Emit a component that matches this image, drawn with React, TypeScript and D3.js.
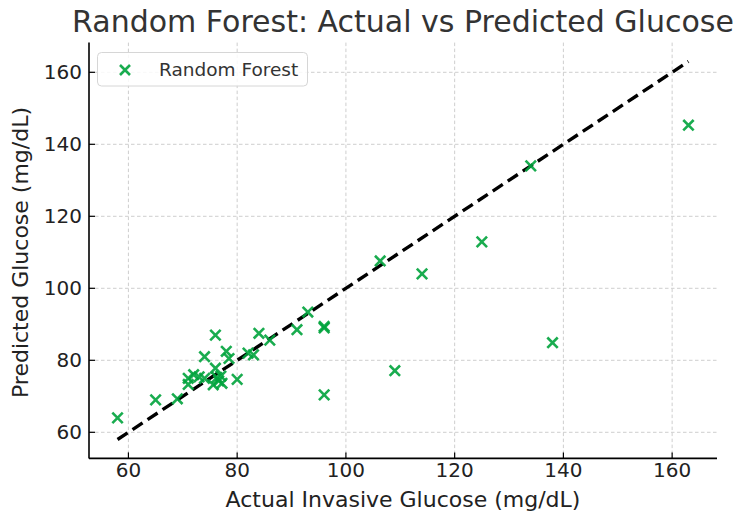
import React from "react";
import * as d3 from "d3";

const actual: number[] = [
  58, 65, 69, 71, 71, 72, 73, 74, 74, 75.6, 76, 76, 76.3, 76.6, 77, 77.2, 78, 78.5, 80,
  82, 83, 84, 86, 91, 93, 96, 96, 96, 106.3, 109, 114, 125, 134, 138, 163,
];
const predicted: number[] = [
  64, 69, 69.3, 73.3, 75, 76, 75.4, 75, 81, 73.2, 87, 77.8, 75.2, 74.3, 75.6, 73.6, 82.5, 80.5, 74.7,
  82, 81.5, 87.5, 85.6, 88.5, 93.4, 89.4, 89, 70.4, 107.6, 77.1, 104, 112.9, 134, 84.9, 145.3,
];
const xTicks: number[] = [60, 80, 100, 120, 140, 160];
const yTicks: number[] = [60, 80, 100, 120, 140, 160];
const seriesName = "Random Forest";

const W = 742;
const H = 524;
const m = { left: 89, right: 717, top: 42.6, bottom: 458.4 };
const font = "'DejaVu Sans', sans-serif";
const green = "#00a33c";

export default function App() {
  const lo = d3.min(actual)!;
  const hi = d3.max(actual)!;
  const pad = (hi - lo) * 0.05;
  const x = d3.scaleLinear().domain([lo - pad, hi + pad]).range([m.left, m.right]);
  const y = d3.scaleLinear().domain([lo - pad, hi + pad]).range([m.bottom, m.top]);
  const pts = actual.map((a, i) => ({ a, p: predicted[i] }));
  const cross = (cx: number, cy: number, r: number, key: string | number, sw = 2.6) => (
    <path
      key={key}
      d={`M${cx - r},${cy - r}L${cx + r},${cy + r}M${cx - r},${cy + r}L${cx + r},${cy - r}`}
      stroke={green}
      strokeWidth={sw}
      strokeOpacity={0.9}
      fill="none"
    />
  );
  const diag = d3.line<number>().x((d) => x(d)).y((d) => y(d))([lo, hi])!;

  return (
    <svg width={W} height={H} style={{ position: "absolute", left: 0, top: 0, background: "#fff" }}>
      {/* grid */}
      <g stroke="#c8c8c8" strokeWidth={0.9} strokeDasharray="3.5,2.5">
        {xTicks.map((t) => (
          <line key={"gx" + t} x1={x(t)} x2={x(t)} y1={m.top} y2={m.bottom} />
        ))}
        {yTicks.map((t) => (
          <line key={"gy" + t} x1={m.left} x2={m.right} y1={y(t)} y2={y(t)} />
        ))}
      </g>
      {/* perfect-prediction line */}
      <path d={diag} stroke="#000" strokeWidth={3.4} strokeDasharray="12,6" fill="none" />
      {/* points */}
      {pts.map((d, i) => cross(x(d.a), y(d.p), 5.2, i))}
      {/* spines */}
      <line x1={m.left} x2={m.left} y1={m.top} y2={m.bottom} stroke="#000" strokeWidth={1.6} />
      <line x1={m.left} x2={m.right} y1={m.bottom} y2={m.bottom} stroke="#000" strokeWidth={1.6} />
      {/* ticks */}
      {xTicks.map((t) => (
        <g key={"tx" + t}>
          <line x1={x(t)} x2={x(t)} y1={m.bottom} y2={m.bottom - 6} stroke="#000" strokeWidth={1.2} />
          <text x={x(t)} y={m.bottom + 18.5} textAnchor="middle" fontFamily={font} fontSize={20} fill="#222">
            {t}
          </text>
        </g>
      ))}
      {yTicks.map((t) => (
        <g key={"ty" + t}>
          <line x1={m.left} x2={m.left + 6} y1={y(t)} y2={y(t)} stroke="#000" strokeWidth={1.2} />
          <text x={m.left - 7} y={y(t) + 7} textAnchor="end" fontFamily={font} fontSize={20} fill="#222">
            {t}
          </text>
        </g>
      ))}
      {/* axis titles */}
      <text x={(m.left + m.right) / 2} y={507} textAnchor="middle" fontFamily={font} fontSize={22} fill="#222">
        Actual Invasive Glucose (mg/dL)
      </text>
      <text
        transform={`translate(28,${(m.top + m.bottom) / 2 + 2}) rotate(-90)`}
        textAnchor="middle"
        fontFamily={font}
        fontSize={22}
        fill="#222"
      >
        Predicted Glucose (mg/dL)
      </text>
      <text x={(m.left + m.right) / 2} y={32} textAnchor="middle" fontFamily={font} fontSize={30} fill="#333">
        Random Forest: Actual vs Predicted Glucose
      </text>
      {/* legend */}
      <rect x={97.5} y={52.5} width={210} height={33.5} rx={4} fill="#fff" fillOpacity={0.85} stroke="#d6d6d6" strokeWidth={1} />
      {cross(125, 70, 5, "leg", 2.6)}
      <text x={159} y={76} fontFamily={font} fontSize={18.5} fill="#333">
        {seriesName}
      </text>
    </svg>
  );
}
